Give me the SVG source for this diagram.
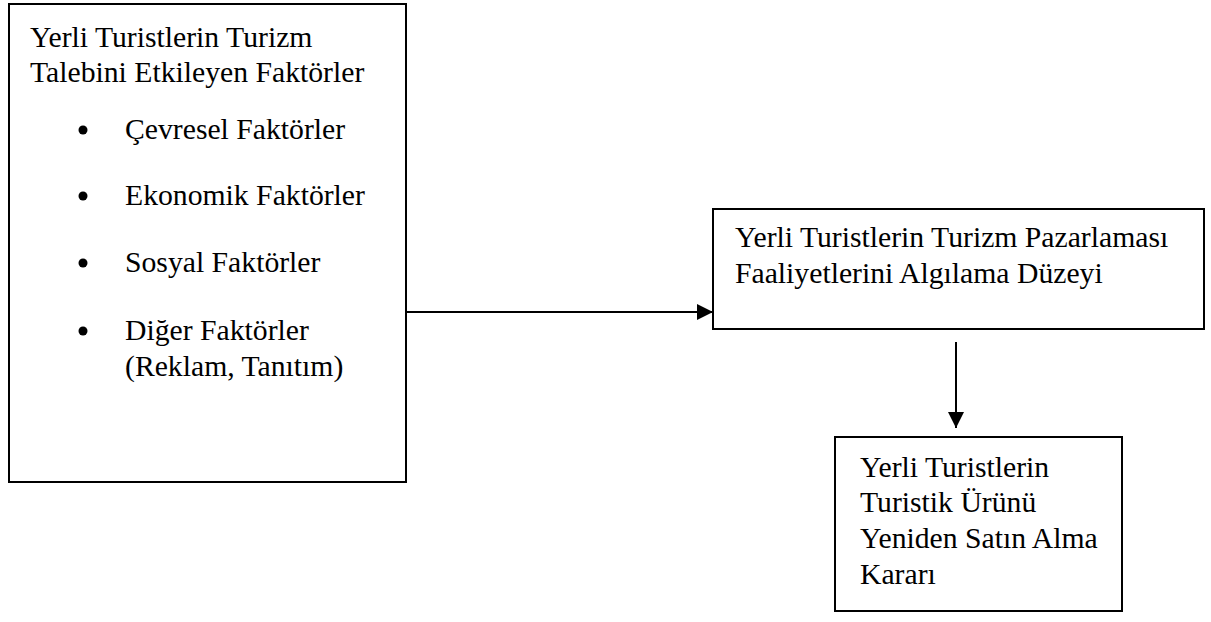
<svg xmlns="http://www.w3.org/2000/svg" width="1211" height="622" viewBox="0 0 1211 622">
<style>
.box{fill:#fff;stroke:#000;stroke-width:2}
.t{font-family:'Liberation Serif','Times New Roman','DejaVu Serif',serif;font-size:29.7px;fill:#000}
.c{stroke:#000;stroke-width:2;fill:none}
</style>
<defs>
<marker id="ah" markerUnits="userSpaceOnUse" markerWidth="16" markerHeight="16" refX="16" refY="8" orient="auto">
<path d="M0,0 L16,8 L0,16 Z" fill="#000"/>
</marker>
</defs>
<rect width="1211" height="622" fill="#fff"/>
<g id="node-factors">
<rect class="box" x="9" y="4" width="397" height="478"/>
<text class="t" x="30" y="47">Yerli Turistlerin Turizm</text>
<text class="t" x="30" y="82">Talebini Etkileyen Faktörler</text>
<circle cx="83" cy="130" r="4.5"/>
<text class="t" x="125" y="139">Çevresel Faktörler</text>
<circle cx="83" cy="196" r="4.5"/>
<text class="t" x="125" y="205">Ekonomik Faktörler</text>
<circle cx="83" cy="263" r="4.5"/>
<text class="t" x="125" y="272">Sosyal Faktörler</text>
<circle cx="83" cy="331" r="4.5"/>
<text class="t" x="125" y="340">Diğer Faktörler</text>
<text class="t" x="125" y="376">(Reklam, Tanıtım)</text>
</g>
<g id="node-perception">
<rect class="box" x="713" y="209" width="491" height="120"/>
<text class="t" x="735" y="247">Yerli Turistlerin Turizm Pazarlaması</text>
<text class="t" x="735" y="283">Faaliyetlerini Algılama Düzeyi</text>
</g>
<g id="node-decision">
<rect class="box" x="835" y="437" width="287" height="174"/>
<text class="t" x="860" y="477">Yerli Turistlerin</text>
<text class="t" x="860" y="512">Turistik Ürünü</text>
<text class="t" x="860" y="548">Yeniden Satın Alma</text>
<text class="t" x="860" y="584">Kararı</text>
</g>
<g id="connectors">
<line class="c" x1="407" y1="312" x2="713" y2="312" marker-end="url(#ah)"/>
<line class="c" x1="956" y1="342" x2="956" y2="428" marker-end="url(#ah)"/>
</g>
</svg>
